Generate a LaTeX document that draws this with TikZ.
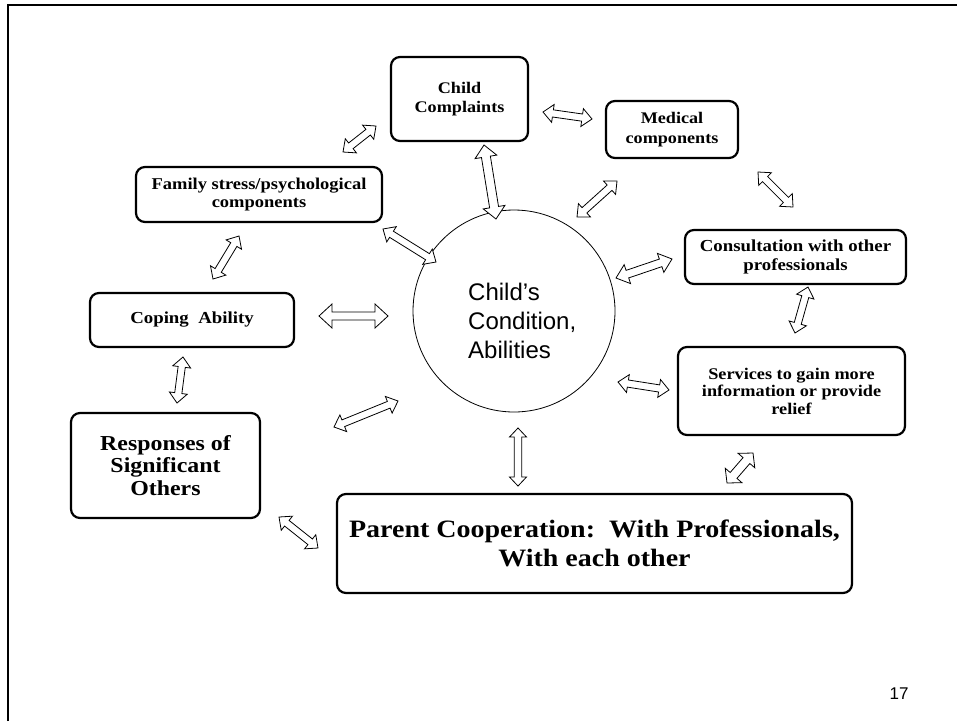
\documentclass[tikz,border=0pt]{standalone}
\usepackage[T1]{fontenc}
\usepackage{fontspec}
\usetikzlibrary{calc}
\newfontfamily\circlefont{Liberation Sans}
\newfontfamily\altserif{Liberation Serif}[FakeStretch=1.12]
% bold Palatino-like face for the box labels, with a fallback
\IfFileExists{ec-qplb.tfm}{%
  \newcommand{\serifbold}{\fontencoding{T1}\fontfamily{qpl}\fontseries{b}\fontshape{n}\selectfont}}{%
  \IfFileExists{pplb8t.tfm}{%
    \newcommand{\serifbold}{\fontencoding{T1}\fontfamily{ppl}\fontseries{b}\fontshape{n}\selectfont}}{%
    \newcommand{\serifbold}{\altserif\bfseries}}}
\newcommand{\boxfont}[2]{\serifbold\fontsize{#1}{#2}\selectfont}

% hollow two-headed block arrow from #1 to #2
% #3 = half shaft width, #4 = half head width, #5 = head length
\newcommand{\twoway}[5]{%
  \coordinate (tw1) at ($(#1)!#5!(#2)$);
  \coordinate (tw2) at ($(#2)!#5!(#1)$);
  \draw[twowayarrow] (#1)
    -- ($(tw1)!#4!90:(#2)$) -- ($(tw1)!#3!90:(#2)$)
    -- ($(tw2)!#3!90:(#2)$) -- ($(tw2)!#4!90:(#2)$)
    -- (#2)
    -- ($(tw2)!#4!-90:(#2)$) -- ($(tw2)!#3!-90:(#2)$)
    -- ($(tw1)!#3!-90:(#2)$) -- ($(tw1)!#4!-90:(#2)$)
    -- cycle;}
\newcommand{\arr}[2]{\twoway{#1}{#2}{3.6pt}{9pt}{10pt}}

\tikzset{
  twowayarrow/.style={draw=black, fill=white, line width=0.8pt, line join=miter},
  topic/.style={draw=black, line width=2.2pt, rounded corners=9pt, align=center, inner sep=0pt},
}

\begin{document}
\begin{tikzpicture}[x=1pt, y=-1pt]
  \useasboundingbox (0,0) rectangle (957,721);
  % slide frame
  \draw[line width=2.6pt] (8,721) -- (8,5) -- (957,5);

  % topic boxes
  \node[topic, minimum width=137, minimum height=84, font=\boxfont{16.2}{19}] (cc) at (459.5,99)
    {Child\\Complaints};
  \node[topic, minimum width=132, minimum height=57, font=\boxfont{16.2}{19.5}] (med) at (672,129.5)
    {Medical\\components};
  \node[topic, minimum width=246, minimum height=55, font=\boxfont{16.5}{18.5}] (fam) at (259,194.5)
    {Family stress/psychological\\components};
  \node[topic, minimum width=204, minimum height=54, font=\boxfont{16.8}{18}] (cop) at (192,320)
    {Coping\ \ Ability};
  \node[topic, minimum width=221, minimum height=54, font=\boxfont{16.8}{19}] (con) at (795.5,257)
    {Consultation with other\\professionals};
  \node[topic, minimum width=227, minimum height=88, font=\boxfont{16.3}{17.5}] (ser) at (791.5,391)
    {Services to gain more\\information or provide\\relief};
  \node[topic, minimum width=189, minimum height=105, font=\boxfont{21.3}{22.5}] (res) at (165.5,465.5)
    {Responses of\\Significant\\Others};
  \node[topic, minimum width=515, minimum height=99, font=\boxfont{25}{29}] (par) at (594.5,543.5)
    {Parent Cooperation:\ \ With Professionals,\\With each other};

  % central circle
  \node[circle, draw=black, line width=0.8pt, minimum size=202, inner sep=0pt] (cond) at (514,311) {};
  \node[align=left, anchor=west, inner sep=0pt, font=\circlefont\fontsize{24}{29}\selectfont] (condtext) at (468,321)
    {Child’s\\Condition,\\Abilities};

  % page number
  \node[font=\circlefont\fontsize{17}{20}\selectfont, inner sep=0pt] (pageno) at (899,694) {17};

  % arrow end points
  \coordinate (a1s) at (343,152);  \coordinate (a1e) at (376,126);
  \coordinate (a2s) at (543,112);  \coordinate (a2e) at (592,119);
  \coordinate (a3s) at (484,145);  \coordinate (a3e) at (496,219);
  \coordinate (a4s) at (577,217);  \coordinate (a4e) at (617,181);
  \coordinate (a5s) at (758,172);  \coordinate (a5e) at (793,207);
  \coordinate (a6s) at (616,278);  \coordinate (a6e) at (672,259);
  \coordinate (a7s) at (808,287);  \coordinate (a7e) at (795,333);
  \coordinate (a8s) at (618,382);  \coordinate (a8e) at (669,390);
  \coordinate (a9s) at (727,483);  \coordinate (a9e) at (753,453);
  \coordinate (a10s) at (518,428); \coordinate (a10e) at (518,486);
  \coordinate (a11s) at (334,427); \coordinate (a11e) at (398,401);
  \coordinate (a12s) at (279,517); \coordinate (a12e) at (318,548);
  \coordinate (a13s) at (183,357); \coordinate (a13e) at (177,403);
  \coordinate (a14s) at (239,236); \coordinate (a14e) at (213,279);
  \coordinate (a15s) at (383,229); \coordinate (a15e) at (436,262);
  \coordinate (a16s) at (319,316); \coordinate (a16e) at (388,316);

  % two-way arrows
  \arr{a1s}{a1e}
  \arr{a2s}{a2e}
  \twoway{a3s}{a3e}{4.5pt}{11pt}{12pt}
  \arr{a4s}{a4e}
  \arr{a5s}{a5e}
  \twoway{a6s}{a6e}{4pt}{10pt}{12pt}
  \arr{a7s}{a7e}
  \arr{a8s}{a8e}
  \twoway{a9s}{a9e}{4.5pt}{11pt}{10pt}
  \twoway{a10s}{a10e}{3.8pt}{8.5pt}{9pt}
  \arr{a11s}{a11e}
  \arr{a12s}{a12e}
  \arr{a13s}{a13e}
  \arr{a14s}{a14e}
  \arr{a15s}{a15e}
  \twoway{a16s}{a16e}{4pt}{12pt}{13pt}
\end{tikzpicture}
\end{document}
